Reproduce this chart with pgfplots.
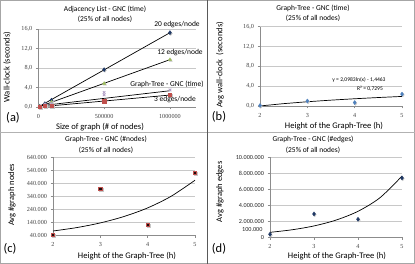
\documentclass[border=0pt]{standalone}
\usepackage{pgfplots}
\pgfplotsset{compat=1.18}
\usepackage{fontspec}
\setmainfont{Carlito}
\newfontfamily\tickserif{Liberation Serif}

\definecolor{axisgray}{HTML}{8C8C8C}
\definecolor{gridgray}{HTML}{C8C8C8}
\definecolor{navy}{HTML}{1F3864}
\definecolor{xlgreen}{HTML}{9BBB59}
\definecolor{xlred}{HTML}{C0504D}
\definecolor{xlpurple}{HTML}{B3A2C7}
\definecolor{xlblue}{HTML}{4F81BD}

\pgfplotsset{
  panel/.style={
    scale only axis,
    axis lines=left,
    axis line style={-, draw=axisgray, line width=0.5bp},
    tick style={draw=axisgray, line width=0.5bp},
    tick align=outside,
    major tick length=2.5bp,
    ymajorgrids,
    grid style={draw=gridgray, line width=0.5bp},
    /pgf/number format/assume math mode=true,
    ticklabel style={font=\tickserif\fontsize{6.2}{7}\selectfont, text=black!75},
    xticklabel style={yshift=-1bp},
    clip=false,
  },
  shadow/.style={only marks, forget plot,
    mark options={draw=black!22, fill=black!22, xshift=0.8bp, yshift=-0.8bp}},
  trend/.style={black, line width=0.7bp, no marks},
}

\newcommand{\ttl}{\fontsize{7.5}{8}\selectfont}
\newcommand{\lbl}{\fontsize{8.6}{10}\selectfont}
\newcommand{\pl}{\fontsize{12.5}{14}\selectfont}

\begin{document}
\begin{tikzpicture}
\path[use as bounding box] (0,0) rectangle (415bp,264bp);
\draw[black!35, line width=0.6bp] (0.3bp,0.3bp) rectangle (414.7bp,263.7bp);
\draw[black!30, line width=0.6bp] (0,132bp) -- (415bp,132bp);
\draw[black!65, line width=0.7bp] (207.3bp,0) -- (207.3bp,264bp);

% ---------------- (a)
\begin{axis}[panel, at={(38.3bp,157bp)}, anchor=south west,
  width=158bp, height=77.7bp,
  xmin=0, xmax=1200000, ymin=0, ymax=16,
  xtick={0,500000,1000000}, ytick={0,4,8,12,16},
  scaled x ticks=false,
  xticklabel={\pgfmathprintnumber[fixed,1000 sep={}]{\tick}},
  yticklabel={\pgfmathprintnumber[fixed,fixed zerofill,precision=1,use comma]{\tick}},
]
\addplot[trend] coordinates {(0,0) (1000000,15.3)};
\addplot[trend] coordinates {(0,0) (1000000,9.75)};
\addplot[trend] coordinates {(0,0.2) (1000000,3.35)};
\addplot[trend] coordinates {(0,0) (1000000,2.46)};
% 20 edges/node
\addplot[shadow, mark=diamond*, mark size=2bp] coordinates {(10000,0.15) (50000,0.7) (100000,1.4) (500000,7.7) (1000000,15.3)};
\addplot[only marks, mark=diamond*, mark size=2bp, mark options={draw=navy, fill=navy}] coordinates {(10000,0.15) (50000,0.7) (100000,1.4) (500000,7.7) (1000000,15.3)};
% 12 edges/node
\addplot[shadow, mark=triangle*, mark size=1.8bp] coordinates {(10000,0.1) (50000,0.5) (100000,1.0) (500000,4.85) (1000000,9.75)};
\addplot[only marks, mark=triangle*, mark size=1.8bp, mark options={draw=xlgreen, fill=xlgreen}] coordinates {(10000,0.1) (50000,0.5) (100000,1.0) (500000,4.85) (1000000,9.75)};
% Graph-Tree GNC
\addplot[only marks, mark=x, mark size=1.8bp, mark options={draw=xlpurple, line width=0.8bp}] coordinates {(10000,0.2) (50000,0.6) (100000,0.8) (500000,2.5) (500000,3.0) (1000000,3.5)};
% 3 edges/node
\addplot[shadow, mark=square*, mark size=1.6bp] coordinates {(10000,0.05) (50000,0.2) (100000,0.3) (500000,1.2) (1000000,2.46)};
\addplot[only marks, mark=square*, mark size=1.6bp, mark options={draw=xlred, fill=xlred}] coordinates {(10000,0.05) (50000,0.2) (100000,0.3) (500000,1.2) (1000000,2.46)};
\end{axis}
\node[font=\ttl] at (105bp,254.7bp) {Adjacency List - GNC (time)};
\node[font=\ttl] at (105bp,244.7bp) {(25\% of all nodes)};
\node[font=\lbl, rotate=90] at (7bp,197bp) {Wall-clock (seconds)};
\node[font=\lbl] at (100bp,137bp) {Size of graph (\# of nodes)};
\node[font=\pl] at (13bp,146bp) {(a)};
\node[font=\ttl] at (177bp,239bp) {20 edges/node};
\node[font=\ttl] at (180bp,211bp) {12 edges/node};
\node[font=\ttl] at (167bp,180bp) {Graph-Tree - GNC (time)};
\node[font=\ttl] at (175bp,164bp) {3 edges/node};

% ---------------- (b)
\begin{axis}[panel, at={(260bp,158bp)}, anchor=south west,
  width=142bp, height=79.3bp,
  xmin=2, xmax=5, ymin=0, ymax=16,
  xtick={2,3,4,5}, ytick={0,4,8,12,16},
  yticklabel={\pgfmathprintnumber[fixed,fixed zerofill,precision=1,use comma]{\tick}},
]
\addplot[trend] coordinates {(2,0.008) (2.5,0.476) (3,0.859) (3.5,1.183) (4,1.463) (4.5,1.710) (5,1.931)};
\addplot[shadow, mark=diamond*, mark size=2bp] coordinates {(2,0.1) (3,1.0) (4,0.7) (5,2.4)};
\addplot[only marks, mark=diamond*, mark size=2bp, mark options={draw=xlblue, fill=xlblue}] coordinates {(2,0.1) (3,1.0) (4,0.7) (5,2.4)};
\end{axis}
\node[font=\ttl] at (313bp,256bp) {Graph-Tree - GNC (time)};
\node[font=\ttl] at (313bp,245.5bp) {(25\% of all nodes)};
\node[font=\lbl, rotate=90] at (220bp,199bp) {Avg wall-clock\ \ (seconds)};
\node[font=\lbl] at (334bp,138bp) {Height of the Graph-Tree (h)};
\node[font=\pl] at (219bp,147bp) {(b)};
\node[font=\fontsize{5.6}{6}\selectfont] at (359bp,184bp) {y = 2,0983ln(x) - 1,4463};
\node[font=\fontsize{5.6}{6}\selectfont] at (370bp,175bp) {R² = 0,7295};

% ---------------- (c)
\begin{axis}[panel, at={(53bp,28.7bp)}, anchor=south west,
  width=142bp, height=78.3bp,
  xmin=2, xmax=5, ymin=40000, ymax=640000,
  xtick={2,3,4,5}, ytick={40000,140000,240000,340000,440000,540000,640000},
  scaled y ticks=false,
  yticklabel={\pgfmathprintnumber[fixed,1000 sep={.}]{\tick}},
]
\addplot[trend, smooth] coordinates {(2,73000) (2.5,99000) (3,135000) (3.5,184000) (4,250000) (4.5,340000) (5,462000)};
\addplot[shadow, mark=square*, mark size=1.7bp] coordinates {(2,45000) (3,397000) (4,122000) (5,517000)};
\addplot[only marks, mark=square*, mark size=1.7bp, mark options={draw=xlred, fill=black!85!xlred, line width=0.6bp}] coordinates {(2,45000) (3,397000) (4,122000) (5,517000)};
\end{axis}
\node[font=\ttl] at (106bp,124.7bp) {Graph-Tree - GNC (\#nodes)};
\node[font=\ttl] at (106bp,113.7bp) {(25\% of all nodes)};
\node[font=\lbl, rotate=90] at (12bp,69bp) {Avg \#graph nodes};
\node[font=\lbl] at (127bp,8bp) {Height of the Graph-Tree (h)};
\node[font=\pl] at (10bp,15bp) {(c)};

% ---------------- (d)
\begin{axis}[panel, at={(270bp,26.7bp)}, anchor=south west,
  width=132bp, height=80bp,
  xmin=2, xmax=5, ymin=0, ymax=10000000,
  xtick={2,3,4,5}, ytick={0,2000000,4000000,6000000,8000000,10000000},
  scaled y ticks=false,
  yticklabel={\pgfmathprintnumber[fixed,1000 sep={.}]{\tick}},
  yticklabel style={font=\fontsize{6.2}{7}\selectfont, text=black!85},
]
\addplot[trend, smooth] coordinates {(2,620000) (2.5,940000) (3,1420000) (3.5,2150000) (4,3250000) (4.5,4950000) (5,7650000)};
\addplot[shadow, mark=diamond*, mark size=2bp] coordinates {(2,375000) (3,2920000) (4,2250000) (5,7420000)};
\addplot[only marks, mark=diamond*, mark size=2bp, mark options={draw=navy, fill=navy}] coordinates {(2,375000) (3,2920000) (4,2250000) (5,7420000)};
\end{axis}
\node[font=\fontsize{6.2}{7}\selectfont, text=black!85, anchor=east] at (266bp,34bp) {100.000};
\node[font=\ttl] at (313bp,124.7bp) {Graph-Tree - GNC (\#edges)};
\node[font=\ttl] at (313bp,113.7bp) {(25\% of all nodes)};
\node[font=\lbl, rotate=90] at (220bp,72bp) {Avg \#graph edges};
\node[font=\lbl] at (337bp,8bp) {Height of the Graph-Tree (h)};
\node[font=\pl] at (219bp,15bp) {(d)};
\end{tikzpicture}
\end{document}
